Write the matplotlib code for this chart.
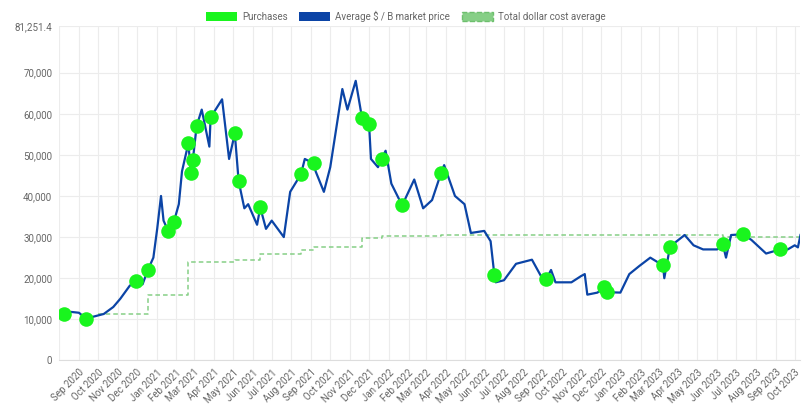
import matplotlib.pyplot as plt
import matplotlib.dates as mdates
import matplotlib.patches as mpatches
import matplotlib.ticker as mticker
import numpy as np
import pandas as pd

# ---------------------------------------------------------------------------
# Data
# ---------------------------------------------------------------------------

price_dates = [
    "2020-08-08", "2020-08-20", "2020-09-01", "2020-09-12", "2020-09-25", "2020-10-10",
    "2020-10-25", "2020-11-05", "2020-11-20", "2020-12-01", "2020-12-10", "2020-12-18",
    "2020-12-27", "2021-01-02", "2021-01-08", "2021-01-12", "2021-01-19", "2021-01-28",
    "2021-02-05", "2021-02-10", "2021-02-20", "2021-02-24", "2021-02-27", "2021-03-05",
    "2021-03-13", "2021-03-25", "2021-03-27", "2021-04-14", "2021-04-25", "2021-05-04",
    "2021-05-10", "2021-05-19", "2021-05-25", "2021-06-08", "2021-06-13", "2021-06-22",
    "2021-07-01", "2021-07-20", "2021-07-30", "2021-08-16", "2021-08-22", "2021-09-05",
    "2021-09-08", "2021-09-21", "2021-10-01", "2021-10-15", "2021-10-20", "2021-10-28",
    "2021-11-10", "2021-11-20", "2021-12-01", "2021-12-04", "2021-12-15", "2021-12-21",
    "2021-12-27", "2022-01-05", "2022-01-22", "2022-02-10", "2022-02-24", "2022-03-10",
    "2022-03-24", "2022-03-29", "2022-04-15", "2022-04-30", "2022-05-10", "2022-05-31",
    "2022-06-10", "2022-06-16", "2022-06-18", "2022-07-01", "2022-07-20", "2022-08-14",
    "2022-08-30", "2022-09-05", "2022-09-13", "2022-09-20", "2022-10-15", "2022-10-30",
    "2022-11-05", "2022-11-09", "2022-11-25", "2022-12-05", "2022-12-10", "2022-12-31",
    "2023-01-14", "2023-01-30", "2023-02-16", "2023-03-08", "2023-03-10", "2023-03-19",
    "2023-04-11", "2023-04-25", "2023-05-10", "2023-06-01", "2023-06-10", "2023-06-15",
    "2023-06-23", "2023-07-12", "2023-07-25", "2023-08-17", "2023-09-08", "2023-09-20",
    "2023-10-01", "2023-10-06", "2023-10-10",
]
price_values = [
    11400, 11800, 11600, 10200, 10700, 11300,
    13000, 15000, 18200, 19200, 18500, 21900,
    25000, 32000, 40000, 34000, 31600, 33600,
    38000, 46000, 52800, 45700, 48700, 57000,
    61000, 52000, 59100, 63500, 49000, 55200,
    43600, 37000, 38000, 33000, 37200, 32000,
    34000, 30000, 41000, 45300, 49000, 47900,
    46000, 41000, 47000, 61000, 66000, 61000,
    68000, 58900, 57400, 49000, 47000, 49100,
    51000, 43000, 37700, 44000, 37000, 39000,
    45500, 47500, 40000, 38000, 31000, 31500,
    29000, 20700, 19000, 19500, 23500, 24500,
    20000, 19700, 22000, 19000, 19000, 20500,
    21000, 16000, 16500, 17800, 16600, 16500,
    21000, 23000, 25000, 23100, 20000, 27700,
    30500, 28000, 27000, 27000, 28200, 25000,
    30500, 30700, 29300, 26000, 27000, 27000,
    28000, 27500, 30500,
]

purchase_dates = [
    "2020-08-08", "2020-09-12", "2020-11-29", "2020-12-18", "2021-01-19", "2021-01-28",
    "2021-02-20", "2021-02-24", "2021-02-27", "2021-03-05", "2021-03-27", "2021-05-04",
    "2021-05-10", "2021-06-13", "2021-08-16", "2021-09-05", "2021-11-20", "2021-12-01",
    "2021-12-21", "2022-01-22", "2022-03-24", "2022-06-16", "2022-09-05", "2022-12-05",
    "2022-12-10", "2023-03-08", "2023-03-19", "2023-06-10", "2023-07-12", "2023-09-08",
]
purchase_values = [
    11400, 10200, 19200, 21900, 31600, 33600,
    52800, 45700, 48700, 57000, 59100, 55200,
    43600, 37200, 45300, 47900, 58900, 57400,
    49100, 37700, 45500, 20700, 19700, 17800,
    16600, 23100, 27700, 28200, 30700, 27000,
]

dca_dates = [
    "2020-10-01", "2020-12-18", "2021-02-20", "2021-05-04", "2021-06-13", "2021-08-16",
    "2021-09-05", "2021-11-20", "2021-12-21", "2022-03-24", "2022-12-05", "2023-06-10",
    "2023-10-10",
]
dca_values = [
    11200, 16000, 24000, 24500, 26000, 26800,
    27500, 29800, 30200, 30600, 30400, 30000,
    29800,
]

Y_MAX = 81251.4

# ---------------------------------------------------------------------------
# Style
# ---------------------------------------------------------------------------

LINE_BLUE = "#0b44a6"
DOT_GREEN = "#19f51e"
DCA_GREEN = "#86cf86"
GRID = "#ececec"
TEXT = "#666666"

plt.rcParams["font.family"] = ["Roboto", "DejaVu Sans"]

fig = plt.figure(figsize=(8.11, 4.05), dpi=100)
ax = fig.add_axes([0.073, 0.11, 0.914, 0.825])

px = pd.to_datetime(price_dates)
pp = pd.to_datetime(purchase_dates)
dd = pd.to_datetime(dca_dates)

ax.step(dd, dca_values, where="post", color=DCA_GREEN, lw=1.1, ls=(0, (3, 2)), zorder=2)
ax.plot(px, price_values, color=LINE_BLUE, lw=1.6, zorder=3)
ax.scatter(pp, purchase_values, s=110, color=DOT_GREEN, zorder=4, linewidths=0)

ax.set_xlim(pd.Timestamp("2020-08-01"), pd.Timestamp("2023-10-10"))
ax.set_ylim(0, Y_MAX)

# labelled ticks start at Sep 2020; Aug 2020 only gets a grid line
month_ticks = pd.date_range("2020-09-01", "2023-10-01", freq="MS")
ax.set_xticks(month_ticks)
ax.set_xticklabels([d.strftime("%b %Y") for d in month_ticks])
ax.axvline(pd.Timestamp("2020-08-01"), color=GRID, lw=0.8, zorder=0)
ax.set_yticks(list(np.arange(0, 80000, 10000)) + [Y_MAX])
ax.yaxis.set_major_formatter(
    mticker.FuncFormatter(lambda v, _: f"{v:,.1f}" if v == Y_MAX else f"{v:,.0f}")
)
for lbl in ax.get_xticklabels():
    lbl.set_rotation(45)
    lbl.set_ha("right")
    lbl.set_rotation_mode("anchor")
ax.tick_params(axis="both", labelsize=7, colors=TEXT, length=0, pad=5)

ax.grid(color=GRID, lw=0.8, zorder=0)
for name, spine in ax.spines.items():
    spine.set_visible(name == "bottom")
ax.spines["bottom"].set_color("#dddddd")

handles = [
    mpatches.Patch(facecolor=DOT_GREEN, label="Purchases"),
    mpatches.Patch(facecolor=LINE_BLUE, label="Average $ / B market price"),
    mpatches.Patch(facecolor=DCA_GREEN, edgecolor="#6dbf6d", ls="--", label="Total dollar cost average"),
]
fig.legend(handles=handles, loc="upper center", bbox_to_anchor=(0.5, 0.995), ncol=3,
           frameon=False, fontsize=7, handlelength=3.2, handleheight=1.0,
           columnspacing=1.2, handletextpad=0.5, labelcolor=TEXT)

fig.savefig("out.png", dpi=100, facecolor="white")
